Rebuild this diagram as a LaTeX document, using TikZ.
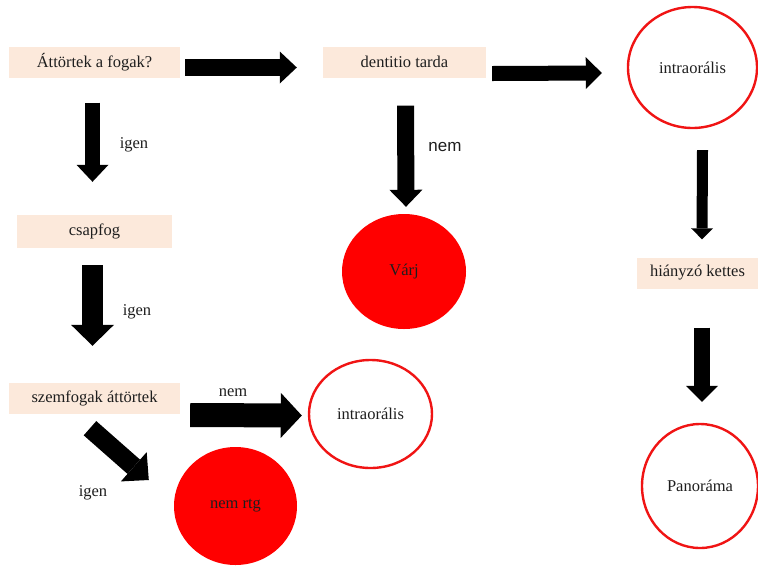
\documentclass[tikz,border=0pt]{standalone}
\usepackage{fontspec}
\setmainfont{Liberation Serif}
\newfontfamily\labelsans{Liberation Sans}
\usetikzlibrary{arrows.meta,shapes.geometric,calc}
\definecolor{peach}{RGB}{252,233,219}
\definecolor{ink}{RGB}{30,30,30}
\definecolor{ringred}{RGB}{240,20,20}
\begin{document}
\begin{tikzpicture}[x=1pt,y=-1pt,
  every node/.style={text=ink,font=\fontsize{16.5}{18}\selectfont},
  qbox/.style={fill=peach,draw=none,inner sep=0pt,minimum height=31pt},
  ring/.style={ellipse,draw=ringred,line width=2.4pt,fill=white,inner sep=0pt},
  disc/.style={ellipse,fill=red,draw=none,inner sep=0pt},
  lbl/.style={inner sep=0pt},
  blk/.style n args={3}{draw=black,line width=#1,
    -{Triangle[width=#2,length=#3,line width=0pt]}}]
\useasboundingbox (0,0) rectangle (758,566);

% question boxes
\node[qbox,minimum width=171pt] (q)  at (94.5,62)   {Áttörtek a fogak?};
\node[qbox,minimum width=163pt] (dt) at (404.5,62)  {dentitio tarda};
\node[qbox,minimum width=155pt,minimum height=33pt] (cs) at (94.5,231.5) {csapfog};
\node[qbox,minimum width=171pt] (sz) at (94.5,398.5) {szemfogak áttörtek};
\node[qbox,minimum width=121pt] (hk) at (697.5,273) {hiányzó kettes};

% outcome circles
\node[ring,minimum width=129pt,minimum height=121pt] (io1) at (692.5,67.5) {intraorális};
\node[disc,minimum width=124pt,minimum height=115pt] (varj) at (404,271.5) {Várj};
\node[ring,minimum width=123pt,minimum height=108pt] (io2) at (370.5,414) {intraorális};
\node[disc,minimum width=123pt,minimum height=118pt] (nrtg) at (235.5,506) {nem rtg};
\node[ring,minimum width=116pt,minimum height=124pt] (pan) at (700,486) {Panoráma};

% branch labels
\node[lbl] (l1) at (134,145) {igen};
\node[lbl,font=\labelsans\fontsize{17}{19}\selectfont] (l2) at (445,147) {nem};
\node[lbl] (l3) at (137,312) {igen};
\node[lbl] (l4) at (233,393) {nem};
\node[lbl] (l5) at (93,493) {igen};

% block arrows
\draw[blk={17pt}{32pt}{17pt}] ($(q.east)+(5,5.5)$) -- ($(dt.west)+(-26,5.5)$);
\draw[blk={15pt}{32pt}{16pt}] ($(dt.east)+(6,11.5)$) -- ($(io1.west)+(-25,5.5)$);
\draw[blk={15pt}{32pt}{17pt}] ($(q.south)+(-2,25)$) -- ($(cs.north)+(-2,-33)$);
\draw[blk={21pt}{43pt}{21pt}] ($(cs.south)+(-2,17)$) -- ($(sz.north)+(-2,-37)$);
\draw[blk={17pt}{33pt}{17pt}] ($(dt.south)+(1,28)$) -- ($(varj.north)+(2,-7)$);
\draw[blk={11pt}{22pt}{11pt}] ($(io1.south)+(10,21)$) -- ($(hk.north)+(4.5,-18)$);
\draw[blk={16pt}{32pt}{16pt}] ($(hk.south)+(4.5,39)$) -- ($(pan.north)+(2,-21)$);
\draw[blk={24pt}{45pt}{21pt}] ($(sz.east)+(10,16.5)$) -- ($(io2.west)+(-6,1.5)$);
\draw[blk={19pt}{39pt}{20pt}] ($(sz.south)+(-4.5,14)$) -- ($(nrtg.west)+(-25,-26)$);
\end{tikzpicture}
\end{document}
